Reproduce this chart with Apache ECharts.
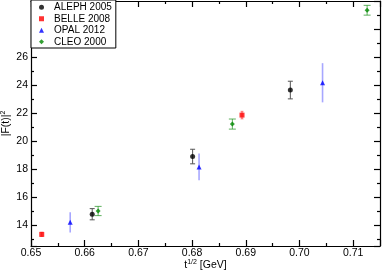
<!DOCTYPE html>
<html><head><meta charset="utf-8">
<script src="https://cdn.jsdelivr.net/npm/echarts@6/dist/echarts.min.js"></script>
<style>html,body{margin:0;padding:0;background:#fff}#c{width:382px;height:274px}</style>
</head><body><div id="c"></div>
<script>
const seriesNames = ['ALEPH 2005', 'BELLE 2008', 'OPAL 2012', 'CLEO 2000'];
const alephX = [0.6614, 0.6801, 0.6983];
const alephY = [14.77, 18.89, 23.64];
const alephErr = [0.40, 0.52, 0.63];
const belleX = [0.6520, 0.6893];
const belleY = [13.33, 21.85];
const belleErr = [0.15, 0.27];
const opalX = [0.6573, 0.6813, 0.7043];
const opalY = [14.19, 18.15, 24.16];
const opalErr = [0.72, 0.95, 1.40];
const cleoX = [0.6625, 0.6875, 0.7126];
const cleoY = [15.00, 21.21, 29.34];
const cleoErr = [0.33, 0.36, 0.35];
const yTickLabels = [14, 16, 18, 20, 22, 24, 26];

const FONT = 'Liberation Sans';
const chart = echarts.init(document.getElementById('c'), null, {renderer: 'canvas'});

function pts(xs, ys) { return xs.map((x, i) => [x, ys[i]]); }
function errPts(xs, ys, es) { return xs.map((x, i) => [x, ys[i], es[i]]); }

function errSeries(name, data, color, cap, width) {
  return {
    type: 'custom', name: name + ' err', data: data, z: 2,
    encode: {x: 0, y: 1},
    renderItem: function (params, api) {
      const x = api.value(0), y = api.value(1), e = api.value(2);
      const lo = api.coord([x, y - e]);
      const hi = api.coord([x, y + e]);
      const children = [{type: 'line', shape: {x1: lo[0], y1: lo[1], x2: hi[0], y2: hi[1]}, style: {stroke: color, lineWidth: width}}];
      if (cap > 0) {
        children.push({type: 'line', shape: {x1: lo[0] - cap, y1: lo[1], x2: lo[0] + cap, y2: lo[1]}, style: {stroke: color, lineWidth: 1}});
        children.push({type: 'line', shape: {x1: hi[0] - cap, y1: hi[1], x2: hi[0] + cap, y2: hi[1]}, style: {stroke: color, lineWidth: 1}});
      }
      return {type: 'group', children: children};
    }
  };
}

const axisCommon = {
  axisLine: {lineStyle: {color: '#000', width: 1.2}},
  axisTick: {inside: true, length: 6, lineStyle: {color: '#000', width: 1.2}},
  minorTick: {show: true, splitNumber: 2, length: 3, lineStyle: {color: '#000', width: 1.2}},
  splitLine: {show: false}
};

const option = {
  animation: false,
  backgroundColor: '#fff',
  grid: {left: 31, right: 2, top: 1, bottom: 28, containLabel: false, outerBoundsMode: 'none'},
  legend: {
    data: [
      {name: seriesNames[0], icon: 'circle', itemStyle: {color: '#000'}},
      {name: seriesNames[1], icon: 'rect', itemStyle: {color: '#f00'}},
      {name: seriesNames[2], icon: 'triangle', itemStyle: {color: '#00f'}},
      {name: seriesNames[3], icon: 'diamond', itemStyle: {color: '#008800'}}
    ],
    orient: 'vertical', left: 31, top: 0,
    backgroundColor: '#fff',
    borderColor: '#000', borderWidth: 1, borderRadius: 0,
    padding: [1.5, 4, 0.5, 8],
    itemGap: 0, itemWidth: 5, itemHeight: 5,
    textStyle: {fontFamily: FONT, fontSize: 10, color: '#000', lineHeight: 11.5, padding: [0, 0, 0, 5]}
  },
  xAxis: [
    Object.assign({}, axisCommon, {
      type: 'value', min: 0.65, max: 0.715, interval: 0.01, position: 'bottom',
      axisLabel: {fontFamily: FONT, fontSize: 10.5, color: '#000', margin: 1.5, showMaxLabel: false,
        formatter: v => v.toFixed(2)},
      name: '{a|t}{s|1/2}{a| [GeV]}', nameLocation: 'middle', nameGap: 13, nameMoveOverlap: false,
      nameTextStyle: {rich: {
        a: {fontFamily: FONT, fontSize: 10.5, color: '#000'},
        s: {fontFamily: FONT, fontSize: 7, color: '#000', verticalAlign: 'top', padding: [0, 0, 5, 0]}
      }}
    }),
    Object.assign({}, axisCommon, {
      type: 'value', min: 0.65, max: 0.715, interval: 0.01, position: 'top',
      axisLabel: {show: false}
    })
  ],
  yAxis: [
    Object.assign({}, axisCommon, {
      type: 'value', min: 12.5, max: 30, splitNumber: 9,
      axisLabel: {fontFamily: FONT, fontSize: 10.5, color: '#000', margin: 3,
        formatter: v => (yTickLabels.indexOf(v) >= 0 ? String(v) : '')},
      name: '{a||F(t)|}{s|2}', nameLocation: 'middle', nameGap: 19, nameRotate: 90, nameMoveOverlap: false,
      nameTextStyle: {rich: {
        a: {fontFamily: FONT, fontSize: 10.5, color: '#000'},
        s: {fontFamily: FONT, fontSize: 7, color: '#000', verticalAlign: 'top', padding: [0, 0, 5, 0]}
      }}
    }),
    Object.assign({}, axisCommon, {
      type: 'value', min: 12.5, max: 30, splitNumber: 9, position: 'right',
      axisLabel: {show: false}
    })
  ],
  series: [
    errSeries('ALEPH', errPts(alephX, alephY, alephErr), '#555', 2.5, 1),
    errSeries('BELLE', errPts(belleX, belleY, belleErr), 'rgba(255,60,60,0.6)', 1.5, 1.5),
    errSeries('OPAL', errPts(opalX, opalY, opalErr), 'rgba(60,60,255,0.45)', 0, 1.6),
    errSeries('CLEO', errPts(cleoX, cleoY, cleoErr), 'rgba(40,150,40,0.75)', 3.5, 1),
    {name: seriesNames[0], type: 'scatter', data: pts(alephX, alephY), symbol: 'circle', symbolSize: 5, itemStyle: {color: '#000'}, z: 5},
    {name: seriesNames[1], type: 'scatter', data: pts(belleX, belleY), symbol: 'rect', symbolSize: 5, itemStyle: {color: '#f00'}, z: 5},
    {name: seriesNames[2], type: 'scatter', data: pts(opalX, opalY), symbol: 'triangle', symbolSize: 5, itemStyle: {color: '#00f'}, z: 5},
    {name: seriesNames[3], type: 'scatter', data: pts(cleoX, cleoY), symbol: 'diamond', symbolSize: 5, itemStyle: {color: '#008800'}, z: 5}
  ]
};
chart.setOption(option);
</script>
</body></html>
